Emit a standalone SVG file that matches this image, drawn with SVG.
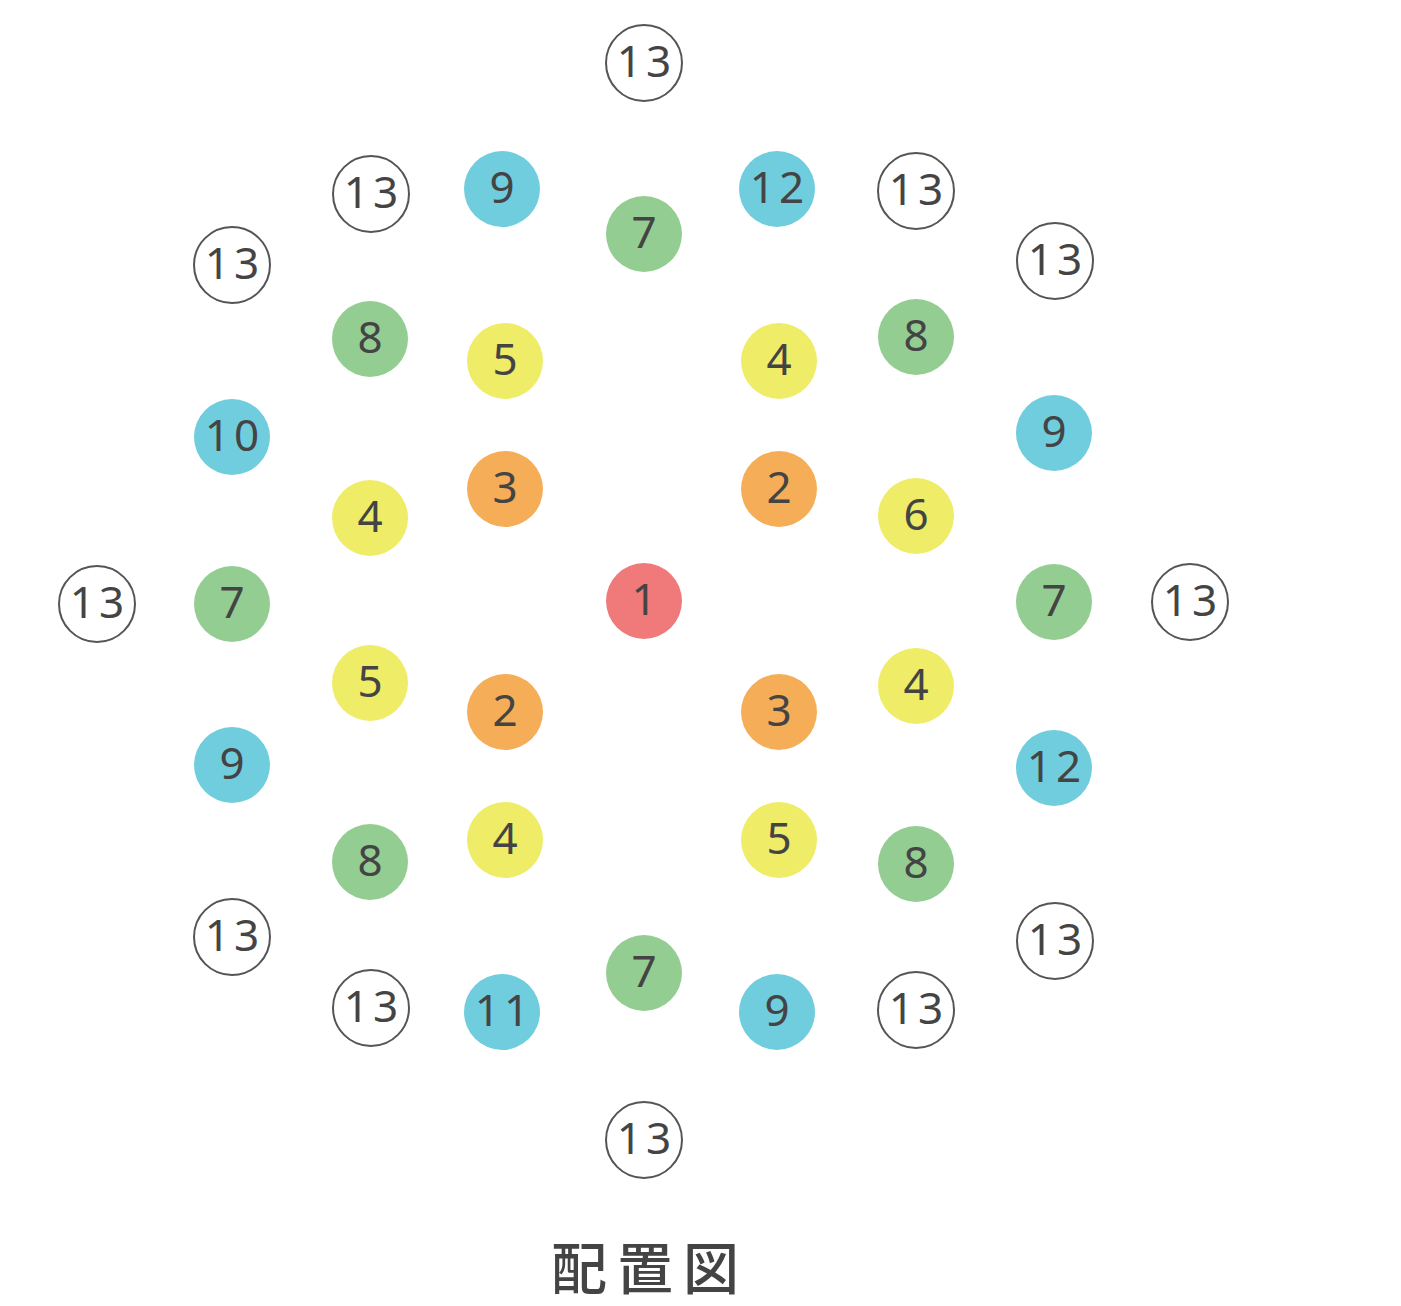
<svg xmlns="http://www.w3.org/2000/svg" width="1401" height="1306" viewBox="0 0 1401 1306">
<style>
text{font-family:"Noto Sans","DejaVu Sans",sans-serif;font-size:44px;fill:#444;text-anchor:middle;dominant-baseline:central;letter-spacing:4px}
.r{fill:#F07A7A}.o{fill:#F5AE57}.y{fill:#EFEC68}.g{fill:#93CD92}.b{fill:#6FCDDE}
.w{fill:#fff;stroke:#555;stroke-width:2}
.t{font-family:"Noto Sans CJK JP","Noto Sans CJK SC",sans-serif;font-size:56px;font-weight:500;letter-spacing:10px}
</style>
<rect width="1401" height="1306" fill="#fff"/>
<g id="n1"><circle class="r" cx="644" cy="601" r="38"/><text x="646" y="598">1</text></g>
<g id="n2a"><circle class="o" cx="779" cy="489" r="38"/><text x="781" y="486">2</text></g>
<g id="n2b"><circle class="o" cx="505" cy="712" r="38"/><text x="507" y="709">2</text></g>
<g id="n3a"><circle class="o" cx="505" cy="489" r="38"/><text x="507" y="486">3</text></g>
<g id="n3b"><circle class="o" cx="779" cy="712" r="38"/><text x="781" y="709">3</text></g>
<g id="n4a"><circle class="y" cx="779" cy="361" r="38"/><text x="781" y="358">4</text></g>
<g id="n4b"><circle class="y" cx="370" cy="518" r="38"/><text x="372" y="515">4</text></g>
<g id="n4c"><circle class="y" cx="916" cy="686" r="38"/><text x="918" y="683">4</text></g>
<g id="n4d"><circle class="y" cx="505" cy="840" r="38"/><text x="507" y="837">4</text></g>
<g id="n5a"><circle class="y" cx="505" cy="361" r="38"/><text x="507" y="358">5</text></g>
<g id="n5b"><circle class="y" cx="370" cy="683" r="38"/><text x="372" y="680">5</text></g>
<g id="n5c"><circle class="y" cx="779" cy="840" r="38"/><text x="781" y="837">5</text></g>
<g id="n6"><circle class="y" cx="916" cy="516" r="38"/><text x="918" y="513">6</text></g>
<g id="n7a"><circle class="g" cx="644" cy="234" r="38"/><text x="646" y="231">7</text></g>
<g id="n7b"><circle class="g" cx="232" cy="604" r="38"/><text x="234" y="601">7</text></g>
<g id="n7c"><circle class="g" cx="1054" cy="602" r="38"/><text x="1056" y="599">7</text></g>
<g id="n7d"><circle class="g" cx="644" cy="973" r="38"/><text x="646" y="970">7</text></g>
<g id="n8a"><circle class="g" cx="370" cy="339" r="38"/><text x="372" y="336">8</text></g>
<g id="n8b"><circle class="g" cx="916" cy="337" r="38"/><text x="918" y="334">8</text></g>
<g id="n8c"><circle class="g" cx="370" cy="862" r="38"/><text x="372" y="859">8</text></g>
<g id="n8d"><circle class="g" cx="916" cy="864" r="38"/><text x="918" y="861">8</text></g>
<g id="n9a"><circle class="b" cx="502" cy="189" r="38"/><text x="504" y="186">9</text></g>
<g id="n9b"><circle class="b" cx="1054" cy="433" r="38"/><text x="1056" y="430">9</text></g>
<g id="n9c"><circle class="b" cx="232" cy="765" r="38"/><text x="234" y="762">9</text></g>
<g id="n9d"><circle class="b" cx="777" cy="1012" r="38"/><text x="779" y="1009">9</text></g>
<g id="n10"><circle class="b" cx="232" cy="437" r="38"/><text x="234" y="434">10</text></g>
<g id="n11"><circle class="b" cx="502" cy="1012" r="38"/><text x="504" y="1009">11</text></g>
<g id="n12a"><circle class="b" cx="777" cy="189" r="38"/><text x="779" y="186">12</text></g>
<g id="n12b"><circle class="b" cx="1054" cy="768" r="38"/><text x="1056" y="765">12</text></g>
<g id="n13a"><circle class="w" cx="644" cy="63" r="38"/><text x="646" y="60">13</text></g>
<g id="n13b"><circle class="w" cx="371" cy="194" r="38"/><text x="373" y="191">13</text></g>
<g id="n13c"><circle class="w" cx="916" cy="191" r="38"/><text x="918" y="188">13</text></g>
<g id="n13d"><circle class="w" cx="232" cy="265" r="38"/><text x="234" y="262">13</text></g>
<g id="n13e"><circle class="w" cx="1055" cy="261" r="38"/><text x="1057" y="258">13</text></g>
<g id="n13f"><circle class="w" cx="97" cy="604" r="38"/><text x="99" y="601">13</text></g>
<g id="n13g"><circle class="w" cx="1190" cy="602" r="38"/><text x="1192" y="599">13</text></g>
<g id="n13h"><circle class="w" cx="232" cy="937" r="38"/><text x="234" y="934">13</text></g>
<g id="n13i"><circle class="w" cx="1055" cy="941" r="38"/><text x="1057" y="938">13</text></g>
<g id="n13j"><circle class="w" cx="371" cy="1008" r="38"/><text x="373" y="1005">13</text></g>
<g id="n13k"><circle class="w" cx="916" cy="1010" r="38"/><text x="918" y="1007">13</text></g>
<g id="n13l"><circle class="w" cx="644" cy="1140" r="38"/><text x="646" y="1137">13</text></g>
<g id="connectors"></g>
<g id="title"><text class="t" x="650" y="1264">配置図</text></g>
</svg>
